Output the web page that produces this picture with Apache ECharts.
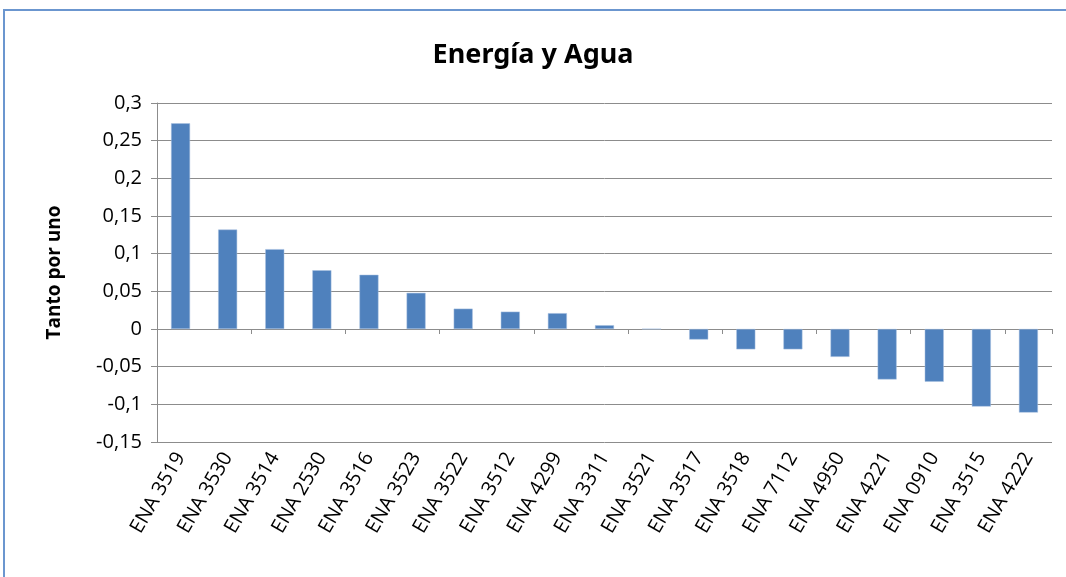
<!DOCTYPE html>
<html>
<head>
<meta charset="utf-8">
<title>Energía y Agua</title>
<script src="https://cdn.jsdelivr.net/npm/echarts@6/dist/echarts.min.js"></script>
<style>
  html, body { margin: 0; padding: 0; background: #fff; }
  #chart { width: 1066px; height: 577px; }
  /* marco azul del gráfico, cortado a la derecha y abajo */
  #frame {
    position: absolute; left: 3px; top: 9px; width: 1080px; height: 600px;
    border-top: 2px solid #6b96cf; border-left: 2px solid #6b96cf;
    pointer-events: none;
  }
</style>
</head>
<body>
<div id="frame"></div>
<div id="chart"></div>
<script>
// categorías (eje X)
const categories = [
  "ENA 3519", "ENA 3530", "ENA 3514", "ENA 2530", "ENA 3516", "ENA 3523",
  "ENA 3522", "ENA 3512", "ENA 4299", "ENA 3311", "ENA 3521", "ENA 3517",
  "ENA 3518", "ENA 7112", "ENA 4950", "ENA 4221", "ENA 0910", "ENA 3515", "ENA 4222"
];
// valores (tanto por uno)
const values = [
  0.273, 0.132, 0.106, 0.078, 0.072, 0.048,
  0.027, 0.023, 0.021, 0.005, 0, -0.014,
  -0.027, -0.027, -0.037, -0.067, -0.070, -0.103, -0.111
];
// eje Y
const yMin = -0.15;
const yMax = 0.3;
const yStep = 0.05;

const chart = echarts.init(document.getElementById("chart"));

const option = {
  animation: false,
  title: {
    text: "Energía y Agua",
    left: "center",
    top: 37,
    textStyle: {
      fontFamily: "Noto Sans",
      fontSize: 27,
      fontWeight: "bold",
      color: "#000",
    },
  },
  grid: {
    left: 157,
    right: 14,
    top: 103,
    bottom: 135,
  },
  xAxis: [
    {
      // línea en cero con marcas
      type: "category",
      data: categories,
      axisLine: { onZero: true, lineStyle: { color: "#8c8c8c", width: 1 } },
      axisTick: { show: true, length: 5, lineStyle: { color: "#8c8c8c" } },
      axisLabel: { show: false },
      splitLine: { show: false },
    },
    {
      // etiquetas abajo
      type: "category",
      data: categories,
      position: "bottom",
      axisLine: { show: false },
      axisTick: { show: false },
      axisLabel: {
        rotate: 60,
        margin: 12,
        interval: 0,
        fontFamily: "Open Sans",
        fontSize: 20,
        color: "#000",
      },
    },
  ],
  yAxis: {
    type: "value",
    min: yMin,
    max: yMax,
    interval: yStep,
    name: "Tanto por uno",
    nameLocation: "middle",
    nameGap: 93,
    nameTextStyle: {
      fontFamily: "Open Sans",
      fontSize: 19,
      fontWeight: "bold",
      color: "#000",
    },
    axisLine: { show: true, lineStyle: { color: "#8c8c8c" } },
    axisTick: { show: true, length: 6, lineStyle: { color: "#8c8c8c" } },
    axisLabel: {
      fontFamily: "Open Sans",
      fontSize: 20,
      color: "#000",
      margin: 15,
      formatter: (v) => String(+v.toFixed(2)).replace(".", ","),
    },
    splitLine: { show: true, lineStyle: { color: "#8c8c8c", width: 1 } },
  },
  series: [
    {
      type: "bar",
      xAxisIndex: 0,
      data: values,
      barWidth: 19,
      itemStyle: {
        color: "#4f81bd",
        borderColor: "#a9c1e0",
        borderWidth: 0.5,
      },
    },
  ],
};

chart.setOption(option);
</script>
</body>
</html>
